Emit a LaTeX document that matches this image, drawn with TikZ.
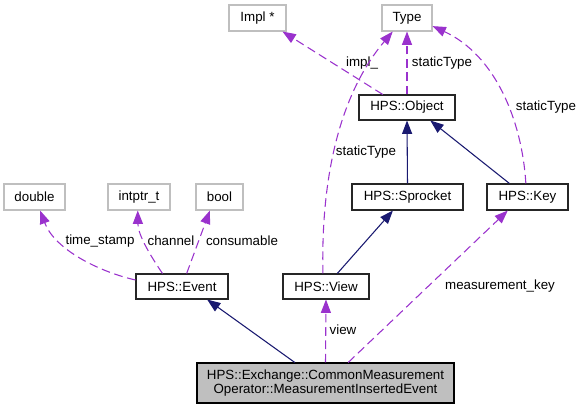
\documentclass[tikz,border=0pt]{standalone}
\usepackage{fontspec}
\setmainfont{Liberation Sans}
\usetikzlibrary{arrows.meta,calc}
\definecolor{navyedge}{HTML}{191970}
\definecolor{purpleedge}{HTML}{9A32CD}
\definecolor{greyborder}{HTML}{BFBFBF}
\begin{document}
\begin{tikzpicture}[x=0.75pt,y=-0.75pt,
  font=\fontsize{10}{10.5}\selectfont,
  cls/.style={draw=black!85, line width=0.8pt, inner sep=0pt, minimum height=19.5pt},
  ext/.style={draw=greyborder, line width=0.8pt, inner sep=0pt, minimum height=19.5pt},
  inh/.style={draw=navyedge, line width=0.8pt, -{Triangle[length=10pt,width=7.5pt]}},
  use/.style={draw=purpleedge, line width=0.8pt, dash pattern=on 6.5pt off 3.5pt, -{Triangle[length=10pt,width=7.5pt]}},
  lbl/.style={inner sep=0pt}]
\useasboundingbox (0,0) rectangle (582,409);
% nodes
\node[ext, minimum width=42.75pt] (impl) at (257.5,18) {Impl *};
\node[ext, minimum width=37.5pt] (type) at (407,18) {Type};
\node[cls, minimum width=72pt, minimum height=18.75pt] (object) at (407,107.5) {HPS::Object};
\node[cls, minimum width=83.25pt] (sprocket) at (407.5,197) {HPS::Sprocket};
\node[cls, minimum width=60.75pt] (key) at (527.5,197) {HPS::Key};
\node[cls, minimum width=64.5pt, minimum height=18.75pt] (view) at (326,286.5) {HPS::View};
\node[cls, minimum width=69pt, minimum height=18.75pt] (event) at (182,286.5) {HPS::Event};
\node[ext, minimum width=45.75pt] (double) at (34.5,197) {double};
\node[ext, minimum width=46.5pt] (intptr) at (139,197) {intptr\_t};
\node[ext, minimum width=35.25pt] (bool) at (219.5,197) {bool};
\node[draw=black, fill=greyborder, line width=0.8pt, inner sep=0pt, minimum width=192.75pt, minimum height=30pt, align=center] (main) at (325.5,383) {HPS::Exchange::CommonMeasurement\\Operator::MeasurementInsertedEvent};
% labels
\node[lbl] (limpl) at (362,63) {impl\_};
\node[lbl] (lst1) at (442,63) {staticType};
\node[lbl] (lst2) at (546,107) {staticType};
\node[lbl] (lst3) at (366,152) {staticType};
\node[lbl] (lmk) at (500,286) {measurement\_key};
\node[lbl] (lview) at (343,330) {view};
\node[lbl] (lts) at (100,241) {time\_stamp};
\node[lbl] (lch) at (171,241) {channel};
\node[lbl] (lcons) at (242,241) {consumable};
% inheritance edges
\draw[inh] ($(main.north west)!0.381!(main.north east)$) -- ($(event.south west)!0.77!(event.south east)$);
\draw[inh] ($(view.north west)!0.63!(view.north east)$) -- ($(sprocket.south west)!0.37!(sprocket.south east)$);
\draw[inh] (sprocket.north) -- (object.south);
\draw[inh] ($(key.north west)!0.28!(key.north east)$) -- ($(object.south west)!0.74!(object.south east)$);
% usage edges
\draw[use] (main.north) -- (view.south);
\draw[use] ($(main.north west)!0.588!(main.north east)$) -- ($(key.south west)!0.26!(key.south east)$);
\draw[use] (object.north) -- (type.south);
\draw[use] ($(object.north west)!0.25!(object.north east)$) -- ($(impl.south west)!0.93!(impl.south east)$);
\draw[use] ($(view.north west)!0.465!(view.north east)$) .. controls (321,190) and (335,100) .. ($(type.south west)!0.22!(type.south east)$);
\draw[use] ($(key.north west)!0.48!(key.north east)$) .. controls (522,120) and (495,55) .. ($(type.north east)!0.8!(type.south east)$);
\draw[use] ($(event.north west)!0.25!(event.south west)$) .. controls (100,272) and (55,250) .. ($(double.south west)!0.59!(double.south east)$);
\draw[use] ($(event.north west)!0.29!(event.north east)$) .. controls (150,255) and (138,235) .. ($(intptr.south west)!0.48!(intptr.south east)$);
\draw[use] ($(event.north west)!0.55!(event.north east)$) -- ($(bool.south west)!0.3!(bool.south east)$);
\end{tikzpicture}
\end{document}
